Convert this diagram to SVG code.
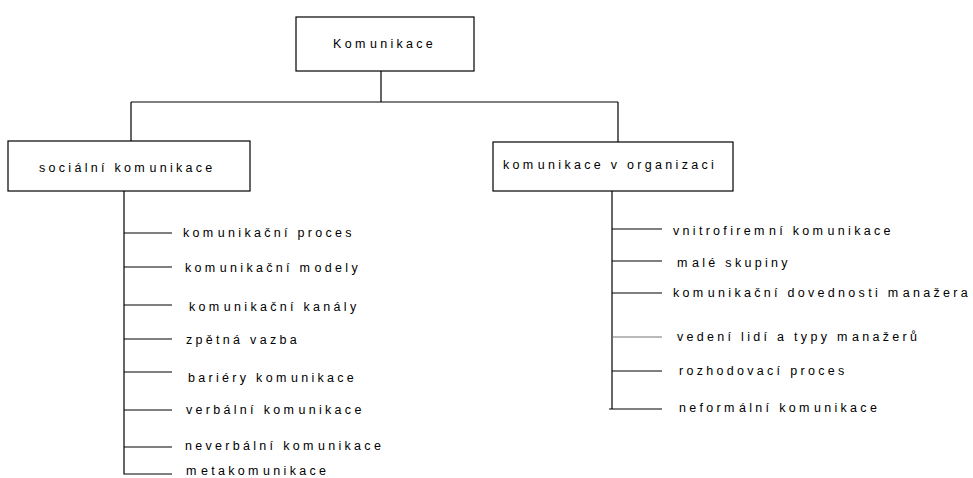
<svg xmlns="http://www.w3.org/2000/svg" width="973" height="478" viewBox="0 0 973 478">
  <style>
    .box { fill: #fff; stroke: #000; stroke-width: 1.2; }
    .ln { stroke: #000; stroke-width: 1.2; fill: none; }
    text { font-family: "Liberation Sans", Arial, sans-serif; font-size: 12.5px; letter-spacing: 3.3px; fill: #000; }
  </style>
  <rect width="973" height="478" fill="#fff"/>

  <!-- connectors -->
  <g id="connectors">
    <path class="ln" d="M381 71 V102 M131 102 H618 M131 102 V141 M618 102 V142"/>
    <!-- left trunk and branches -->
    <path class="ln" d="M124 191 V474 H172"/>
    <path class="ln" d="M124 233 H172 M124 267 H172 M124 305 H172 M124 339 H172 M124 372 H172 M124 410 H172 M124 447 H172"/>
    <!-- right trunk and branches -->
    <path class="ln" d="M612 191 V409"/>
    <path class="ln" d="M612 229 H662 M612 261 H662 M612 293 H662 M612 371 H662 M609 409 H662"/>
    <path d="M612 337 H662" stroke="#777" stroke-width="1.2"/>
  </g>

  <!-- small extra gaps after some "m" glyphs, set with dx -->
  <g id="root">
    <rect class="box" x="296" y="17" width="178" height="54"/>
    <text x="333" y="48">Kom<tspan dx="1.3">unikace</tspan></text>
  </g>

  <g id="social">
    <rect class="box" x="8" y="141" width="242" height="50"/>
    <text x="39" y="172">sociální kom<tspan dx="1.3">unikace</tspan></text>
  </g>

  <g id="org">
    <rect class="box" x="493" y="142" width="240" height="49"/>
    <text x="503" y="169">kom<tspan dx="1.3">unikace v organizaci</tspan></text>
  </g>

  <g id="social-items">
    <text x="183" y="237">kom<tspan dx="1.3">unikační proces</tspan></text>
    <text x="185" y="272">kom<tspan dx="1.3">unikační m</tspan><tspan dx="1.3">odely</tspan></text>
    <text x="189" y="311">kom<tspan dx="1.3">unikační kanály</tspan></text>
    <text x="186" y="344">zpětná vazba</text>
    <text x="188" y="382">bariéry kom<tspan dx="1.3">unikace</tspan></text>
    <text x="186" y="414">verbální kom<tspan dx="1.3">unikace</tspan></text>
    <text x="185" y="450">neverbální kom<tspan dx="1.3">unikace</tspan></text>
    <text x="186" y="475">m<tspan dx="1.3">etakom</tspan><tspan dx="1.3">unikace</tspan></text>
  </g>

  <g id="org-items">
    <text x="673" y="235">vnitrofirem<tspan dx="1.3">ní kom</tspan><tspan dx="1.3">unikace</tspan></text>
    <text x="677" y="267">m<tspan dx="1.3">alé skupiny</tspan></text>
    <text x="673" y="297">kom<tspan dx="1.3">unikační dovednosti m</tspan><tspan dx="1.3">anažera</tspan></text>
    <text x="677" y="341">vedení lidí a typy m<tspan dx="1.3">anažerů</tspan></text>
    <text x="679" y="375">rozhodovací proces</text>
    <text x="679" y="412">neform<tspan dx="1.3">ální kom</tspan><tspan dx="1.3">unikace</tspan></text>
  </g>
</svg>
